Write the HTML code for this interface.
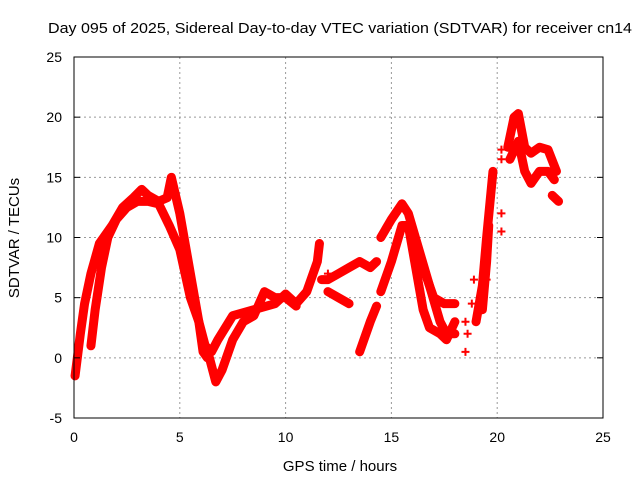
<!DOCTYPE html>
<html><head><meta charset="utf-8"><style>
body{margin:0;background:#fff}
svg text{font-family:"Liberation Sans",sans-serif;font-size:14px;fill:#000}
</style></head><body>
<svg width="640" height="480" viewBox="0 0 640 480">
<text x="48" y="33" textLength="584" lengthAdjust="spacingAndGlyphs" style="font-size:15px">Day 095 of 2025, Sidereal Day-to-day VTEC variation (SDTVAR) for receiver cn14</text>
<g id="grid"></g>
<g id="marks"></g>
<rect x="74" y="57" width="529" height="361" fill="none" stroke="#000" stroke-width="1"/>
<g id="ticks"></g>
<text x="340" y="471" text-anchor="middle" style="font-size:15px">GPS time / hours</text>
<text transform="translate(19,238) rotate(-90)" text-anchor="middle" style="font-size:15px">SDTVAR / TECUs</text>
</svg>
<script>
const xTicks=[0,5,10,15,20,25];
const yTicks=[-5,0,5,10,15,20,25];
const trackA=[[0.05,-1.5],[0.3,2],[0.5,4.5],[0.8,7],[1.2,9.5],[1.8,11],[2.3,12.5],[2.8,13.3],[3.2,14],[3.5,13.5],[4,13],[4.4,13.3],[4.6,15],[5,12],[5.3,9],[5.6,6],[5.9,3],[6.1,0.5],[6.3,0]];
const trackB=[[0.8,1],[1,4],[1.3,7.5],[1.6,10],[2,11.5],[2.5,12.5],[3,13],[3.5,13],[4,12.8],[4.5,11],[5,9],[5.5,5],[5.9,3],[6.2,1],[6.5,0.5],[6.8,1.5],[7.5,3.5],[8.5,4],[9.5,4.5],[10,5.3],[10.5,4.5],[11,5.5],[11.5,8],[11.6,9.5]];
const trackC=[[6.4,0],[6.7,-2],[7,-1],[7.5,1.5],[8,3],[8.5,3.5],[9,5.5],[9.5,5],[10,5],[10.5,4.3]];
const trackD=[[11.7,6.5],[12,6.5],[12.5,7],[13,7.5],[13.5,8],[14,7.5],[14.3,8]];
const trackE=[[12,5.5],[12.5,5],[13,4.5]];
const trackF=[[13.5,0.5],[14,3],[14.3,4.3]];
const trackG=[[14.5,10],[15,11.5],[15.5,12.8],[15.8,12],[16.3,9],[16.8,6],[17.3,3],[17.6,2],[18,2]];
const trackH=[[14.5,5.5],[15,8],[15.5,11],[15.8,11],[16.1,8],[16.5,4],[16.8,2.5],[17.3,2],[17.6,1.5],[18,3]];
const trackI=[[16.3,8.5],[16.6,7],[17,5],[17.5,4.5],[18,4.5]];
const trackJ=[[19,3],[19.3,6],[19.5,10],[19.8,15.5]];
const trackK=[[19.3,4],[19.5,8],[19.6,11]];
const trackL=[[20.5,17.5],[20.8,20],[21,20.3],[21.3,17.5],[21.6,17],[22,17.5],[22.4,17.3],[22.8,15.5]];
const trackM=[[20.6,16.5],[21,18],[21.3,15.5],[21.6,14.5],[22,15.5],[22.4,15.5],[22.7,14.8]];
const trackN=[[22.6,13.5],[22.9,13]];
const scatterPts=[[18.5,0.5],[18.6,2],[18.5,3],[19.5,6.5],[20.2,10.5],[20.2,12],[20.2,16.5],[20.2,17.3],[18.8,4.5],[18.9,6.5],[12,7],[12,5.5]];
const tracks=[trackA,trackB,trackC,trackD,trackE,trackF,trackG,trackH,trackI,trackJ,trackK,trackL,trackM,trackN];
const NS="http://www.w3.org/2000/svg";
const X=v=>74+v*529/25, Y=v=>418-(v+5)*361/30;
const grid=document.getElementById('grid'),ticks=document.getElementById('ticks'),marks=document.getElementById('marks');
function mk(t,a,p){const e=document.createElementNS(NS,t);for(const k in a)e.setAttribute(k,a[k]);p.appendChild(e);return e;}
xTicks.forEach(t=>{
 if(t>0&&t<25){const g=mk('line',{x1:X(t),x2:X(t),y1:57,y2:418,stroke:'#999','stroke-dasharray':'2,3'},grid);
 
 }
 const l=mk('text',{x:X(t),y:442,'text-anchor':'middle'},ticks);l.textContent=t;
 
 
});
yTicks.forEach(t=>{
 if(t>-5&&t<25){const g=mk('line',{x1:74,x2:603,y1:Y(t),y2:Y(t),stroke:'#999','stroke-dasharray':'2,3'},grid);
 
 }
 mk('line',{x1:74,x2:80,y1:Y(t),y2:Y(t),stroke:'#000'},ticks);
 mk('line',{x1:597,x2:603,y1:Y(t),y2:Y(t),stroke:'#000'},ticks);
 const l=mk('text',{x:62,y:Y(t)+5,'text-anchor':'end'},ticks);l.textContent=t;
 
 
});
function plus(x,y){const p=mk('path',{d:`M${X(x)-4},${Y(y)}h8M${X(x)},${Y(y)-4}v8`,stroke:'#f00','stroke-width':2},marks);
 
 }
tracks.forEach(tr=>{
 const pl=mk('polyline',{points:tr.map(p=>X(p[0])+','+Y(p[1])).join(' '),fill:'none',stroke:'#f00','stroke-width':9,'stroke-linejoin':'round','stroke-linecap':'round'},marks);
 
 
 tr.forEach(p=>plus(p[0],p[1]));
});
scatterPts.forEach(p=>plus(p[0],p[1]));
</script>
</body></html>
